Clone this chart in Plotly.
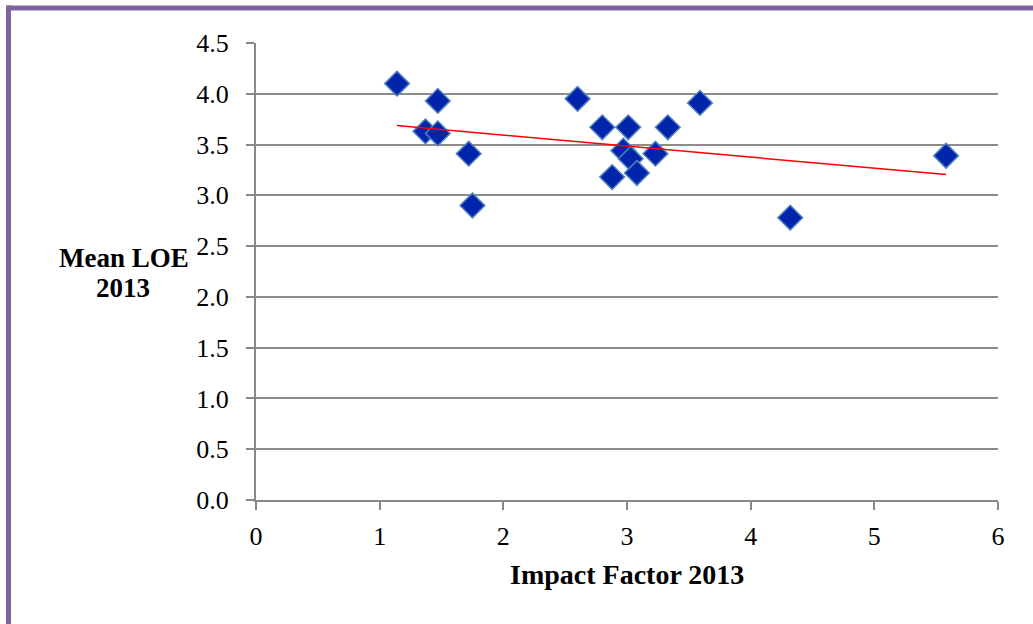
import numpy as np
import plotly.graph_objects as go

impact_factor = [1.14, 1.37, 1.47, 1.47, 1.72, 1.75, 2.60, 2.80, 3.01, 3.33, 3.59,
                 2.97, 3.03, 3.23, 3.08, 2.88, 4.32, 5.58]
mean_loe = [4.10, 3.63, 3.61, 3.93, 3.41, 2.90, 3.95, 3.67, 3.67, 3.67, 3.91,
            3.44, 3.36, 3.41, 3.22, 3.18, 2.78, 3.39]
x_ticks = [0, 1, 2, 3, 4, 5, 6]
y_ticks = [0.0, 0.5, 1.0, 1.5, 2.0, 2.5, 3.0, 3.5, 4.0, 4.5]

slope, intercept = np.polyfit(impact_factor, mean_loe, 1)
trend_x = [min(impact_factor), max(impact_factor)]
trend_y = [slope * v + intercept for v in trend_x]

W, H = 1033, 624
L, R, T, B = 256, 35, 43, 124
pw, ph = W - L - R, H - T - B

def px(x):
    return (x - L) / pw

def py(y):
    return (H - B - y) / ph

SERIF = "Liberation Serif, DejaVu Serif, serif"
tick_font = dict(family=SERIF, size=26, color="#000000")
title_font = dict(family=SERIF, size=27, color="#000000")

fig = go.Figure()
fig.add_trace(go.Scatter(
    x=impact_factor, y=mean_loe, mode="markers",
    marker=dict(symbol="diamond", size=19, color="#0024AA",
                line=dict(color="#4F81BD", width=1.5)),
    showlegend=False, hoverinfo="x+y"))
fig.add_trace(go.Scatter(
    x=trend_x, y=trend_y, mode="lines",
    line=dict(color="#FF0000", width=1.5), showlegend=False))

fig.update_layout(
    width=W, height=H,
    margin=dict(l=L, r=R, t=T, b=B),
    paper_bgcolor="white", plot_bgcolor="white",
    font=tick_font,
    xaxis=dict(range=[0, 6], tickvals=x_ticks, ticktext=[str(v) for v in x_ticks],
               showgrid=False, zeroline=False, showline=True, linecolor="#888888",
               linewidth=2, ticks="outside", ticklen=8, tickcolor="#888888", tickwidth=2,
               tickfont=tick_font, ticklabelstandoff=4),
    yaxis=dict(range=[0, 4.5], tickvals=y_ticks, ticktext=[f"{v:.1f}" for v in y_ticks],
               showgrid=True, gridcolor="#8C8C8C", gridwidth=2, zeroline=False,
               showline=True, linecolor="#888888", linewidth=2, ticks="outside",
               ticklen=8, tickcolor="#888888", tickwidth=2, tickfont=tick_font,
               ticklabelstandoff=12),
    annotations=[
        dict(text="<b>Mean LOE</b>", xref="paper", yref="paper",
             x=px(124), y=py(258), showarrow=False, font=title_font,
             xanchor="center", yanchor="middle"),
        dict(text="<b>2013</b>", xref="paper", yref="paper",
             x=px(123), y=py(288), showarrow=False, font=title_font,
             xanchor="center", yanchor="middle"),
        dict(text="<b>Impact Factor 2013</b>", xref="paper", yref="paper",
             x=px(627), y=py(574), showarrow=False,
             font=dict(family=SERIF, size=28, color="#000000"),
             xanchor="center", yanchor="middle"),
    ],
    shapes=[
        dict(type="line", xref="paper", yref="paper",
             x0=px(6), x1=px(W + 20), y0=py(8), y1=py(8),
             line=dict(color="#8064A2", width=5)),
        dict(type="line", xref="paper", yref="paper",
             x0=px(8.5), x1=px(8.5), y0=py(5.5), y1=py(H + 20),
             line=dict(color="#8064A2", width=5)),
    ],
)
fig.write_html("out.html", config={"displayModeBar": False},
               post_script="document.body.style.margin='0';")
